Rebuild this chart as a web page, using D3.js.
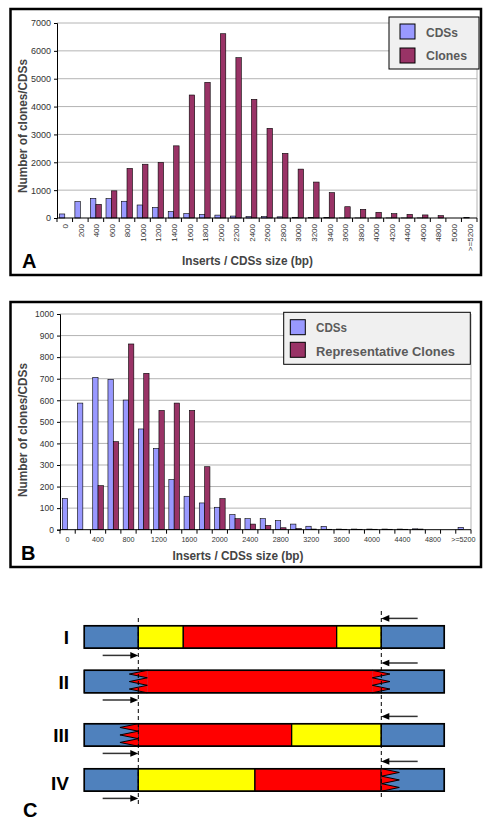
<!DOCTYPE html>
<html><head><meta charset="utf-8">
<script src="https://cdn.jsdelivr.net/npm/d3@7"></script>
<style>body{margin:0;background:#fff;} svg{display:block;font-family:Arial,"Liberation Sans",sans-serif;}</style>
</head><body><svg id="c" width="491" height="831"></svg>
<script>
// ---------- DATA ----------
const categories = ["0","200","400","600","800","1000","1200","1400","1600","1800","2000","2200","2400","2600","2800","3000","3200","3400","3600","3800","4000","4200","4400","4600","4800","5000",">=5200"];
const cdsCounts   = [145,587,706,697,601,467,377,232,155,124,104,70,51,51,42,26,16,15,3,3,3,3,3,4,0,0,11];
const clonesA     = [0,0,490,975,1780,1930,1995,2590,4415,4870,6615,5755,4260,3220,2320,1755,1290,910,405,310,205,155,130,110,85,0,0];
const repClonesB  = [0,0,204,408,861,725,553,587,553,292,144,51,26,20,9,5,3,2,2,2,2,2,2,3,0,0,0];
const yTicksA = [0,1000,2000,3000,4000,5000,6000,7000];
const yTicksB = [0,100,200,300,400,500,600,700,800,900,1000];
const legendA = ["CDSs","Clones"];
const legendB = ["CDSs","Representative  Clones"];
const xTitle = "Inserts / CDSs size (bp)";
const yTitle = "Number of clones/CDSs";

// Diagram (panel C): positions along construct, 0..100
const rowLabels = ["I","II","III","IV"];
const primerSites = [15, 82.5];
const segmentColors = [["blue","yellow","red","yellow","blue"],["blue","red","blue"],["blue","red","yellow","blue"],["blue","yellow","red","blue"]];
const segmentBreaks = [[15,27.5,70.1,82.5],[15,82.5],[15,57.6,82.5],[15,47.4,82.5]];
const leftZigzag  = [null,[12.5,17.5],[9.9,15],null];
const rightZigzag = [null,[80,84.9],null,[82.6,87.5]];

// ---------- DRAW ----------
const svg = d3.select("#c");
svg.append("rect").attr("width",491).attr("height",831).attr("fill","#fff");
const COL_CDS = "#9999ff", COL_CLN = "#993366";

function chart(o){
  const g = svg.append("g");
  const x = d3.scaleBand().domain(categories).range([o.x0,o.x1]);
  const y = d3.scaleLinear().domain([0,o.ymax]).range([o.yb,o.yt]);
  // gridlines
  g.selectAll(".grid").data(o.yticks.filter(d=>d>0)).join("line")
    .attr("x1",o.x0).attr("x2",o.x1).attr("y1",d=>y(d)).attr("y2",d=>y(d))
    .attr("stroke","#b4b4b4").attr("stroke-width",1);
  // right plot border
  g.append("line").attr("x1",o.x1).attr("x2",o.x1).attr("y1",o.yt).attr("y2",o.yb).attr("stroke","#b4b4b4");
  // bars
  const w = x.bandwidth()*0.35;
  const cx = d => x(d)+x.bandwidth()/2;
  g.selectAll(".b1").data(categories).join("rect")
    .attr("x",d=>cx(d)-w).attr("width",w)
    .attr("y",(d,i)=>y(o.s1[i])).attr("height",(d,i)=>y(0)-y(o.s1[i]))
    .attr("fill",COL_CDS).attr("stroke","#000").attr("stroke-width",0.6);
  g.selectAll(".b2").data(categories).join("rect")
    .attr("x",d=>cx(d)).attr("width",w)
    .attr("y",(d,i)=>y(o.s2[i])).attr("height",(d,i)=>y(0)-y(o.s2[i]))
    .attr("fill",COL_CLN).attr("stroke","#000").attr("stroke-width",0.6);
  // y axis
  const ya = d3.axisLeft(y).tickValues(o.yticks).tickSize(3).tickFormat(d3.format("d"));
  const yg = g.append("g").attr("transform",`translate(${o.x0},0)`).call(ya);
  yg.select(".domain").attr("stroke","#000");
  yg.selectAll("text").attr("font-size",o.yfs).attr("fill","#333").attr("x",-6);
  // x axis
  g.append("line").attr("x1",o.x0).attr("x2",o.x1).attr("y1",y(0)).attr("y2",y(0)).attr("stroke","#000");
  const bounds = d3.range(categories.length+1).map(i=>o.x0+i*x.step());
  g.selectAll(".xt").data(bounds).join("line").attr("x1",d=>d).attr("x2",d=>d)
    .attr("y1",y(0)).attr("y2",y(0)+4).attr("stroke","#000");
  if(o.rot){
    g.selectAll(".xl").data(categories).join("text")
      .attr("transform",d=>`translate(${cx(d)+0.5},${y(0)+6}) rotate(-90)`)
      .attr("text-anchor","end").attr("dy","0.35em").attr("font-size",8).attr("fill","#333").text(d=>d);
  } else {
    g.selectAll(".xl").data(categories.filter((d,i)=>i%2===0)).join("text")
      .attr("x",d=>cx(d)).attr("y",y(0)+12).attr("text-anchor","middle")
      .attr("font-size",7.2).attr("fill","#333").text(d=>d);
  }
  // titles
  g.append("text").attr("x",o.xtx).attr("y",o.xty).attr("text-anchor","middle")
    .attr("font-size",12).attr("font-weight","bold").attr("fill","#444")
    .attr("textLength",131).attr("lengthAdjust","spacingAndGlyphs").text(xTitle);
  g.append("text").attr("transform",`translate(${o.ytx},${o.yty}) rotate(-90)`).attr("text-anchor","middle")
    .attr("font-size",12).attr("font-weight","bold").attr("fill","#444")
    .attr("textLength",134).attr("lengthAdjust","spacingAndGlyphs").text(yTitle);
  // legend
  const L = o.leg;
  g.append("rect").attr("x",L.x).attr("y",L.y).attr("width",L.w).attr("height",L.h)
    .attr("fill","#f0f0f0").attr("stroke","#000").attr("stroke-width",1);
  [COL_CDS,COL_CLN].forEach((c,i)=>{
    g.append("rect").attr("x",L.x+L.sx).attr("y",L.y+L.sy[i]).attr("width",15).attr("height",15)
      .attr("fill",c).attr("stroke","#000").attr("stroke-width",1);
    g.append("text").attr("x",L.x+L.tx).attr("y",L.y+L.ty[i]).attr("font-size",13).attr("font-weight","bold")
      .attr("fill","#5a5a5a").attr("textLength",L.tl[i]).attr("lengthAdjust","spacingAndGlyphs").text(o.legText[i]);
  });
  // panel letter
  g.append("text").attr("x",o.lx).attr("y",o.ly).attr("font-size",20).attr("font-weight","bold").text(o.letter);
  // outer box
  g.append("rect").attr("x",o.bx0).attr("y",o.by0).attr("width",o.bx1-o.bx0).attr("height",o.by1-o.by0)
    .attr("fill","none").attr("stroke","#000").attr("stroke-width",2.5);
}

chart({x0:57,x1:477,yt:23,yb:218,ymax:7000,yticks:yTicksA,yfs:9,s1:cdsCounts,s2:clonesA,rot:true,
  xtx:247.5,xty:265,ytx:27,yty:126,
  leg:{x:389,y:17,w:90,h:52,sx:11,sy:[7,31],tx:37,ty:[20,43],tl:[32,41]},legText:legendA,
  letter:"A",lx:22,ly:268,bx0:10.5,by0:9,bx1:481,by1:275});

chart({x0:60,x1:471,yt:314,yb:529.7,ymax:1000,yticks:yTicksB,yfs:8.5,s1:cdsCounts,s2:repClonesB,rot:false,
  xtx:238,xty:560,ytx:27,yty:430,
  leg:{x:283.7,y:312.3,w:186.6,h:52,sx:6.6,sy:[7.4,30],tx:32.3,ty:[19.4,43.4],tl:[31,139]},legText:legendB,
  letter:"B",lx:21,ly:560,bx0:10.5,by0:302,bx1:481,by1:567});

// ---------- Panel C ----------
const colMap = {blue:"#4f81bd",yellow:"#ffff00",red:"#ff0000"};
const xs = d3.scaleLinear().domain([0,100]).range([84.3,444.3]);
const rowTop = [625.7,670.3,723.7,768.7], barH = 22.5;
const gc = svg.append("g");
rowLabels.forEach((lab,r)=>{
  const y0 = rowTop[r], y1 = y0+barH;
  const br = [0,...segmentBreaks[r],100];
  segmentColors[r].forEach((c,i)=>{
    gc.append("rect").attr("x",xs(br[i])).attr("y",y0).attr("width",xs(br[i+1])-xs(br[i])).attr("height",barH)
      .attr("fill",colMap[c]).attr("stroke","#000").attr("stroke-width",1.3);
  });
  const teeth = (a,b,dir)=>{
    const h = barH/6; const pts=[];
    for(let k=0;k<=6;k++){ pts.push([ (k%2===0)?(dir<0?xs(b):xs(a)):(dir<0?xs(a):xs(b)), y0+k*h ]); }
    return pts;
  };
  const drawZig = (z,dir,inner)=>{
    gc.append("rect").attr("x",xs(z[0])).attr("y",y0).attr("width",xs(z[1])-xs(z[0])).attr("height",barH).attr("fill",colMap.blue);
    const pts = teeth(z[0],z[1],dir);
    gc.append("polygon").attr("points",pts.map(p=>p.join(",")).join(" ")).attr("fill",colMap[inner]);
    gc.append("polyline").attr("points",pts.map(p=>p.join(",")).join(" ")).attr("fill","none").attr("stroke","#000").attr("stroke-width",1);
  };
  if(leftZigzag[r]) drawZig(leftZigzag[r],-1,segmentColors[r][1]);
  if(rightZigzag[r]) drawZig(rightZigzag[r],1,segmentColors[r][segmentColors[r].length-2]);
  gc.append("rect").attr("x",xs(0)).attr("y",y0).attr("width",xs(100)-xs(0)).attr("height",barH)
    .attr("fill","none").attr("stroke","#000").attr("stroke-width",1.5);
  gc.append("text").attr("x",69).attr("y",y0+barH/2+(r===3?10:7)).attr("text-anchor","end")
    .attr("font-size",19).attr("font-weight","bold").text(lab);
  // arrows
  const arrow=(xa,xb,yy)=>{
    const dir = Math.sign(xb-xa);
    gc.append("line").attr("x1",xa).attr("x2",xb-dir*6).attr("y1",yy).attr("y2",yy).attr("stroke","#333").attr("stroke-width",1.5);
    gc.append("polygon").attr("points",`${xb},${yy} ${xb-dir*8},${yy-3.3} ${xb-dir*8},${yy+3.3}`).attr("fill","#000");
  };
  arrow(xs(5.1),xs(primerSites[0]),y1+7.2);
  arrow(xs(92.6),xs(primerSites[1]),y0-7.3);
});
gc.append("line").attr("x1",xs(primerSites[0])).attr("x2",xs(primerSites[0])).attr("y1",618).attr("y2",804)
  .attr("stroke","#000").attr("stroke-width",1).attr("stroke-dasharray","4,3");
gc.append("line").attr("x1",xs(primerSites[1])).attr("x2",xs(primerSites[1])).attr("y1",611).attr("y2",798)
  .attr("stroke","#000").attr("stroke-width",1).attr("stroke-dasharray","4,3");
gc.append("text").attr("x",23).attr("y",816.5).attr("font-size",20).attr("font-weight","bold").text("C");
</script></body></html>
